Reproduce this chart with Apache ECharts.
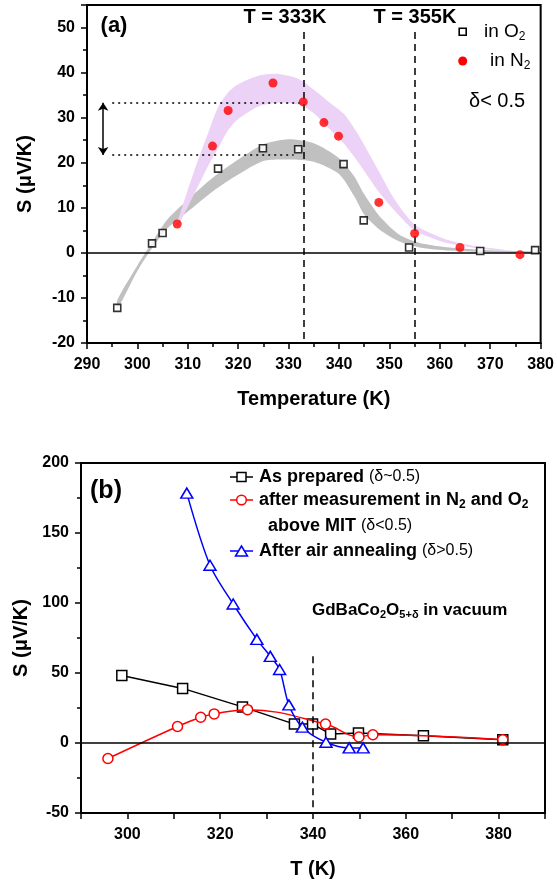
<!doctype html>
<html>
<head>
<meta charset="utf-8">
<title>Seebeck coefficient vs temperature</title>
<script src="https://cdn.jsdelivr.net/npm/echarts@6/dist/echarts.min.js"></script>
<style>html,body{margin:0;padding:0;background:#fff;}</style>
</head>
<body>
<div id="chart" style="width:557px;height:880px;"></div>
<script>
// ---- panel (a): measured points ----
const o2T = [296.0, 302.9, 305.0, 316.0, 324.9, 331.9, 340.9, 344.9, 353.9, 368.0, 378.9];
const o2S = [-12.2, 2.1, 4.4, 18.7, 23.2, 23.0, 19.7, 7.2, 1.2, 0.4, 0.6];
const n2T = [307.9, 314.9, 318.0, 326.9, 332.9, 337.0, 339.9, 347.9, 355.0, 364.0, 375.9];
const n2S = [6.4, 23.7, 31.6, 37.7, 33.5, 28.9, 25.9, 11.2, 4.3, 1.2, -0.4];

// shaded guide bands (lower / upper edge)
const o2BandT  = [296, 300, 303, 306, 310, 315, 320, 325, 330, 335, 340, 343, 345, 348, 352, 356, 362, 370, 380];
const o2BandLo = [-12.5, -4.0, 1.2, 5.5, 9.2, 13.7, 17.4, 20.4, 20.7, 20.2, 17.5, 12.6, 8.5, 5.2, 2.5, 1.2, 0.5, 0.1, 0.0];
const o2BandHi = [-10.5, -2.8, 2.5, 7.5, 11.8, 16.7, 20.7, 24.1, 25.2, 24.3, 21.0, 17.0, 13.0, 8.2, 4.0, 2.2, 1.2, 0.6, 0.3];
const n2BandT  = [308, 310, 312, 314, 316, 318, 320, 324, 328, 332, 335, 338, 341, 344, 348, 351, 355, 361, 367, 373];
const n2BandLo = [6.0, 10.2, 14.7, 19.2, 23.2, 27.2, 29.7, 32.5, 33.3, 32.9, 31.0, 27.6, 24.2, 19.8, 13.4, 9.4, 5.0, 2.3, 1.1, 0.4];
const n2BandHi = [7.0, 14.0, 20.5, 26.5, 32.3, 35.6, 37.4, 39.3, 39.7, 38.6, 36.2, 33.5, 30.8, 25.9, 17.9, 11.9, 6.3, 3.1, 1.5, 0.6];

// reference marks in (a)
const aTransitions = [333, 355];
const aLevels = [33.3, 21.7];
const aLevelEnds = [333, 331];
const aArrowT = 293.2;

// ---- panel (b) ----
const prepT = [298.8, 311.9, 324.8, 336.0, 339.9, 343.8, 349.8, 363.8, 380.9];
const prepS = [48.2, 39.0, 25.8, 13.5, 13.5, 6.4, 7.1, 5.2, 2.4];
const mitT = [295.8, 310.8, 315.8, 318.7, 325.9, 342.7, 349.9, 352.9, 380.9];
const mitS = [-11.1, 11.8, 18.4, 20.8, 23.8, 13.5, 4.3, 5.9, 2.4];
const airT = [312.8, 317.8, 322.8, 327.9, 330.8, 332.8, 334.8, 337.7, 342.8, 347.8, 350.8];
const airS = [178.5, 127.0, 99.3, 74.0, 61.9, 52.5, 27.2, 11.3, 0.5, -3.5, -3.5];
const bTransition = 340;
const bTransitionTop = 62;

const F = '"Liberation Sans", Arial, sans-serif';
const zip = (xs, ys) => xs.map((x, i) => [x, ys[i]]);

function valueAxis(o) {
  return Object.assign({
    type: 'value',
    axisLine: { onZero: false, lineStyle: { color: '#000', width: 2 } },
    axisTick: { length: 6, lineStyle: { color: '#000', width: 1.5 } },
    minorTick: { show: true, splitNumber: 2, length: 4, lineStyle: { color: '#000', width: 1.5 } },
    splitLine: { show: false },
    axisLabel: { color: '#000', fontFamily: F, fontWeight: 'bold', fontSize: 16 },
    nameLocation: 'middle',
    nameTextStyle: { color: '#000', fontFamily: F, fontWeight: 'bold', fontSize: 20 }
  }, o);
}

// filled band between two smooth edges, drawn once through the axis scales
function band(name, xs, lo, hi, color) {
  return {
    name, type: 'custom', xAxisIndex: 0, yAxisIndex: 0, z: 1, silent: true, clip: true,
    data: xs.map((x, i) => [x, lo[i], hi[i]]),
    renderItem: (params, api) => {
      if (params.dataIndex !== 0) return null;
      const top = xs.map((x, i) => api.coord([x, hi[i]]));
      const bot = xs.map((x, i) => api.coord([x, lo[i]])).reverse();
      return {
        type: 'polygon',
        shape: { points: top.concat(bot), smooth: 0.25 },
        style: { fill: color, stroke: null }
      };
    }
  };
}

const dashed = { type: [7, 5], color: '#000', width: 1.5 };
const dotted = { type: [2, 4], color: '#000', width: 1.5 };
const solid = { type: 'solid', color: '#000', width: 1.5 };

const chart = echarts.init(document.getElementById('chart'), null, { width: 557, height: 880 });

const rich = {
  n: { fontFamily: F, fontSize: 19, color: '#000' },
  s: { fontFamily: F, fontSize: 12, color: '#000', padding: [10, 0, 0, 0] },
  b: { fontFamily: F, fontSize: 18, fontWeight: 'bold', color: '#000' },
  bs: { fontFamily: F, fontSize: 12, fontWeight: 'bold', color: '#000', padding: [10, 0, 0, 0] },
  p: { fontFamily: F, fontSize: 16, color: '#000' },
  t: { fontFamily: F, fontSize: 17, fontWeight: 'bold', color: '#000' },
  ts: { fontFamily: F, fontSize: 11, fontWeight: 'bold', color: '#000', padding: [10, 0, 0, 0] }
};

function txt(x, y, text, extra) {
  return { type: 'text', x, y, silent: true,
    style: Object.assign({ text, rich, fill: '#000', align: 'left', verticalAlign: 'middle' }, extra || {}) };
}

chart.setOption({
  animation: false,
  backgroundColor: '#fff',
  grid: [
    { left: 87, right: 16, top: 5, height: 338, show: true, borderColor: '#000', borderWidth: 2 },
    { left: 81, right: 12, top: 463, height: 352, show: true, borderColor: '#000', borderWidth: 2 }
  ],
  xAxis: [
    valueAxis({ gridIndex: 0, min: 290, max: 380, interval: 10,
      axisLabel: { color: '#000', fontFamily: F, fontWeight: 'bold', fontSize: 16, margin: 14 },
      name: 'Temperature (K)', nameGap: 46 }),
    valueAxis({ gridIndex: 1, min: 290, max: 390, interval: 10, minorTick: { show: false },
      axisLabel: { color: '#000', fontFamily: F, fontWeight: 'bold', fontSize: 16, margin: 14,
        formatter: v => (v % 20 === 0 ? String(v) : '') },
      name: 'T (K)', nameGap: 46 })
  ],
  yAxis: [
    valueAxis({ gridIndex: 0, min: -20, max: 55, interval: 10,
      axisLabel: { color: '#000', fontFamily: F, fontWeight: 'bold', fontSize: 16, margin: 12, showMaxLabel: false },
      name: 'S (μV/K)', nameGap: 52 }),
    valueAxis({ gridIndex: 1, min: -50, max: 200, interval: 50,
      axisLabel: { color: '#000', fontFamily: F, fontWeight: 'bold', fontSize: 16, margin: 12 },
      name: 'S (μV/K)', nameGap: 45 })
  ],
  series: [
    band('o2band', o2BandT, o2BandLo, o2BandHi, '#c0c0c0'),
    band('n2band', n2BandT, n2BandLo, n2BandHi, '#ecd2f6'),
    {
      name: 'in O2', type: 'scatter', xAxisIndex: 0, yAxisIndex: 0, z: 4,
      symbol: 'rect', symbolSize: 7,
      itemStyle: { color: '#fff', borderColor: '#000', borderWidth: 1.6 },
      data: zip(o2T, o2S),
      markLine: {
        silent: true, symbol: 'none', animation: false, label: { show: false }, z: 3,
        data: [
          { yAxis: 0, lineStyle: solid },
          ...aTransitions.map(t => [{ coord: [t, 49], lineStyle: dashed }, { coord: [t, -20] }]),
          ...aLevels.map((v, i) => [{ coord: [295, v], lineStyle: dotted }, { coord: [aLevelEnds[i], v] }]),
          [{ coord: [aArrowT, aLevels[0]], symbol: 'arrow', lineStyle: solid },
           { coord: [aArrowT, aLevels[1]], symbol: 'arrow' }]
        ],
        symbolSize: 8
      }
    },
    {
      name: 'in N2', type: 'scatter', xAxisIndex: 0, yAxisIndex: 0, z: 4,
      symbol: 'circle', symbolSize: 9,
      itemStyle: { color: '#ff0000' },
      data: zip(n2T, n2S)
    },
    {
      name: 'As prepared', type: 'line', xAxisIndex: 1, yAxisIndex: 1, z: 3,
      symbol: 'rect', symbolSize: 10,
      lineStyle: { color: '#000', width: 1.5 },
      itemStyle: { color: '#fff', borderColor: '#000', borderWidth: 1.5 },
      data: zip(prepT, prepS),
      markLine: {
        silent: true, symbol: 'none', animation: false, label: { show: false },
        data: [
          { yAxis: 0, lineStyle: solid },
          [{ coord: [bTransition, bTransitionTop], lineStyle: dashed }, { coord: [bTransition, -50] }]
        ]
      }
    },
    {
      name: 'after measurement', type: 'line', xAxisIndex: 1, yAxisIndex: 1, z: 4,
      symbol: 'circle', symbolSize: 10, smooth: 0.4,
      lineStyle: { color: '#ff0000', width: 1.5 },
      itemStyle: { color: '#fff', borderColor: '#ff0000', borderWidth: 1.5 },
      data: zip(mitT, mitS)
    },
    {
      name: 'After air annealing', type: 'line', xAxisIndex: 1, yAxisIndex: 1, z: 5,
      symbol: 'triangle', symbolSize: [12, 10], smooth: 0.3,
      lineStyle: { color: '#0000ff', width: 1.5 },
      itemStyle: { color: '#fff', borderColor: '#0000ff', borderWidth: 1.5 },
      data: zip(airT, airS)
    }
  ],
  graphic: [
    // panel (a) annotations
    txt(114, 26, '(a)', { font: 'bold 22px ' + F, align: 'center', rich: null }),
    txt(285, 17, 'T = 333K', { font: 'bold 20px ' + F, align: 'center', rich: null }),
    txt(415, 17, 'T = 355K', { font: 'bold 20px ' + F, align: 'center', rich: null }),
    { type: 'rect', silent: true, shape: { x: 459.2, y: 28.2, width: 7, height: 7 },
      style: { fill: '#fff', stroke: '#000', lineWidth: 1.6 } },
    txt(484, 32, '{n|in O}{s|2}'),
    { type: 'circle', silent: true, shape: { cx: 462.7, cy: 61, r: 4.5 }, style: { fill: '#ff0000' } },
    txt(490, 61, '{n|in N}{s|2}'),
    txt(469, 101, 'δ< 0.5', { font: '20px ' + F, rich: null }),
    // panel (b) annotations
    txt(106, 491, '(b)', { font: 'bold 25px ' + F, align: 'center', rich: null }),
    { type: 'line', silent: true, shape: { x1: 230, y1: 477, x2: 253, y2: 477 }, style: { stroke: '#000', lineWidth: 1.5 } },
    { type: 'rect', silent: true, shape: { x: 237, y: 472.5, width: 9, height: 9 },
      style: { fill: '#fff', stroke: '#000', lineWidth: 1.5 } },
    txt(259, 477, '{b|As prepared }{p|(δ~0.5)}'),
    { type: 'line', silent: true, shape: { x1: 230, y1: 500, x2: 253, y2: 500 }, style: { stroke: '#ff0000', lineWidth: 1.5 } },
    { type: 'circle', silent: true, shape: { cx: 241.5, cy: 500, r: 4.8 },
      style: { fill: '#fff', stroke: '#ff0000', lineWidth: 1.5 } },
    txt(259, 500, '{b|after measurement in N}{bs|2}{b| and O}{bs|2}'),
    txt(268, 526, '{b|above MIT }{p|(δ<0.5)}'),
    { type: 'line', silent: true, shape: { x1: 230, y1: 551, x2: 253, y2: 551 }, style: { stroke: '#0000ff', lineWidth: 1.5 } },
    { type: 'polygon', silent: true, shape: { points: [[241.5, 546], [235.5, 556], [247.5, 556]] },
      style: { fill: '#fff', stroke: '#0000ff', lineWidth: 1.5 } },
    txt(259, 551, '{b|After air annealing }{p|(δ>0.5)}'),
    txt(312, 610, '{t|GdBaCo}{ts|2}{t|O}{ts|5+δ}{t| in vacuum}')
  ]
});
</script>
</body>
</html>
